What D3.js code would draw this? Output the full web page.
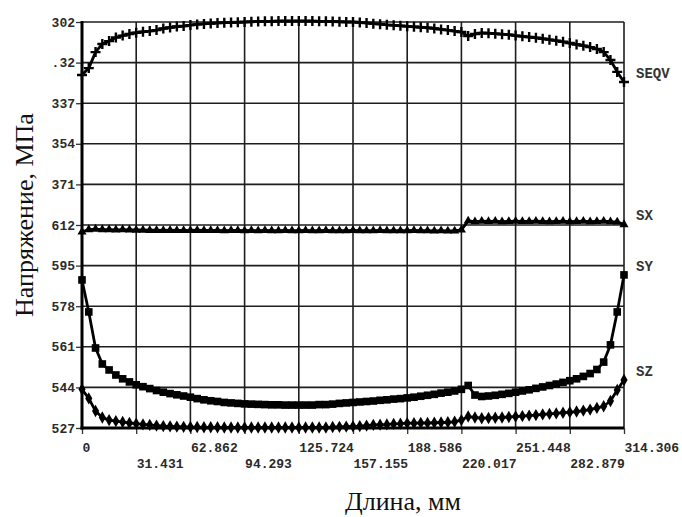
<!DOCTYPE html>
<html>
<head>
<meta charset="utf-8">
<script src="https://cdn.jsdelivr.net/npm/d3@7"></script>
<style>
  body { margin: 0; background: #fff; }
  svg { display: block; }
</style>
</head>
<body>
<div id="chart"></div>
<script>
// ---- data ------------------------------------------------------------
var pathLength = 314.306;

var xTicks = [0, 31.431, 62.862, 94.293, 125.724, 157.155, 188.586, 220.017, 251.448, 282.879, 314.306];
var xTickLabels = ["0", "31.431", "62.862", "94.293", "125.724", "157.155", "188.586", "220.017", "251.448", "282.879", "314.306"];

var yTicks = [527, 544, 561, 578, 595, 612, 629, 646, 663, 680, 697];
var yTickLabels = ["527", "544", "561", "578", "595", "612", "371", "354", "337", ".32", "302"];

var seqv = [674.8, 677.7, 684.4, 687.8, 689.0, 690.5, 691.3, 692.0, 692.5, 692.9,
  693.2, 693.6, 694.3, 694.7, 695.1, 695.3, 695.7, 696.0, 696.2, 696.4,
  696.6, 696.7, 696.8, 696.9, 697.0, 697.1, 697.2, 697.3, 697.3, 697.4,
  697.4, 697.4, 697.4, 697.4, 697.4, 697.3, 697.3, 697.2, 697.1, 697.0,
  697.0, 696.8, 696.6, 696.3, 696.1, 695.8, 695.6, 695.4, 695.2, 695.0,
  694.8, 694.6, 694.3, 693.9, 693.6, 693.2, 692.8, 691.1, 692.0, 692.4,
  692.3, 692.1, 691.9, 691.7, 691.3, 691.0, 690.7, 690.4, 690.0, 689.6,
  689.2, 688.7, 688.2, 687.6, 687.1, 686.5, 685.7, 684.4, 681.1, 676.1,
  671.9];

var sx = [609.1, 610.1, 610.3, 610.1, 610.1, 610.0, 610.1, 610.0, 609.9, 609.9,
  609.8, 609.8, 609.7, 609.8, 609.7, 609.7, 609.7, 609.8, 609.7, 609.7,
  609.7, 609.6, 609.7, 609.7, 609.6, 609.7, 609.6, 609.7, 609.6, 609.6,
  609.7, 609.6, 609.6, 609.7, 609.6, 609.6, 609.7, 609.6, 609.6, 609.6,
  609.7, 609.6, 609.6, 609.6, 609.7, 609.6, 609.6, 609.6, 609.6, 609.7,
  609.6, 609.6, 609.5, 609.6, 609.5, 609.5, 610.0, 613.7, 613.4, 613.6,
  613.5, 613.6, 613.4, 613.5, 613.6, 613.5, 613.5, 613.6, 613.5, 613.4,
  613.5, 613.6, 613.4, 613.5, 613.6, 613.4, 613.5, 613.6, 613.4, 613.3,
  612.2];

var sy = [589.0, 575.6, 560.5, 553.8, 551.3, 549.2, 547.6, 546.3, 545.1, 544.3,
  543.5, 542.7, 542.0, 541.4, 540.9, 540.4, 539.9, 539.3, 538.8, 538.4,
  538.1, 537.7, 537.5, 537.3, 537.1, 537.0, 536.9, 536.8, 536.7, 536.7,
  536.6, 536.6, 536.6, 536.6, 536.6, 536.8, 536.8, 537.0, 537.3, 537.5,
  537.7, 537.9, 538.1, 538.3, 538.6, 538.8, 539.1, 539.3, 539.6, 539.9,
  540.3, 540.7, 541.1, 541.6, 542.0, 542.5, 543.2, 544.8, 540.8, 540.2,
  540.4, 540.7, 541.1, 541.5, 542.0, 542.5, 543.0, 543.6, 544.2, 544.8,
  545.4, 546.1, 546.8, 547.6, 548.6, 549.8, 551.5, 554.6, 561.8, 575.6,
  591.1];

var sz = [543.2, 539.4, 534.1, 531.4, 530.3, 529.9, 529.5, 529.1, 528.8, 528.5,
  528.3, 528.0, 527.8, 527.7, 527.6, 527.5, 527.4, 527.4, 527.3, 527.3,
  527.3, 527.2, 527.2, 527.2, 527.2, 527.2, 527.2, 527.2, 527.2, 527.2,
  527.2, 527.2, 527.2, 527.2, 527.2, 527.2, 527.2, 527.4, 527.5, 527.6,
  527.7, 527.8, 528.0, 528.3, 528.4, 528.5, 528.7, 528.8, 529.0, 529.0,
  529.1, 529.1, 529.2, 529.3, 529.4, 529.6, 530.3, 531.8, 531.4, 531.1,
  531.2, 531.3, 531.4, 531.6, 531.8, 532.0, 532.2, 532.4, 532.7, 532.9,
  533.1, 533.4, 533.6, 533.9, 534.3, 534.7, 535.4, 536.1, 538.3, 542.9,
  547.1];

var seriesNames = ["SEQV", "SX", "SY", "SZ"];
var seriesValues = [seqv, sx, sy, sz];
var seriesMarkers = ["plus", "triangle", "square", "diamond"];

// path nodes are evenly spaced along the length
var nDiv = seqv.length - 1;
var dist = seqv.map(function(d, i) { return i * pathLength / nDiv; });

// ---- chart config ----------------------------------------------------
var width = 682, height = 517;
var margin = {top: 22, right: 58, bottom: 89, left: 82};
var innerW = width - margin.left - margin.right,
    innerH = height - margin.top - margin.bottom;

var xScale = d3.scaleLinear().domain([0, pathLength]).range([margin.left, margin.left + innerW]);
var yScale = d3.scaleLinear().domain([527, 697]).range([margin.top + innerH, margin.top]);

var svg = d3.select("#chart").append("svg")
    .attr("width", width)
    .attr("height", height);

svg.append("rect").attr("width", width).attr("height", height).attr("fill", "#fff");

var monoFont = "'Liberation Mono', 'Courier New', monospace";
var serifFont = "'Liberation Serif', 'Times New Roman', serif";

// grid
var grid = svg.append("g").attr("class", "grid")
    .attr("stroke", "#1e1e1e").attr("stroke-width", 1.6);

grid.selectAll("line.v").data(xTicks).enter().append("line")
    .attr("class", "v")
    .attr("x1", function(d) { return xScale(d); })
    .attr("x2", function(d) { return xScale(d); })
    .attr("y1", yScale(697))
    .attr("y2", yScale(527));

grid.selectAll("line.h").data(yTicks).enter().append("line")
    .attr("class", "h")
    .attr("x1", xScale(0))
    .attr("x2", xScale(pathLength))
    .attr("y1", function(d) { return yScale(d); })
    .attr("y2", function(d) { return yScale(d); });

// axes
var yAxis = d3.axisLeft(yScale)
    .tickValues(yTicks)
    .tickSize(6)
    .tickPadding(1)
    .tickFormat(function(d, i) { return yTickLabels[i]; });

var yAxisEl = svg.append("g")
    .attr("class", "y axis")
    .attr("transform", "translate(" + xScale(0) + ",0)")
    .call(yAxis);

yAxisEl.select(".domain").remove();
yAxisEl.selectAll(".tick line").attr("stroke", "#333").attr("stroke-width", 1.3);
yAxisEl.selectAll(".tick text")
    .attr("font-family", monoFont)
    .attr("font-weight", "bold")
    .attr("font-size", "13px")
    .attr("fill", "#2a2a2a");

var xAxis = d3.axisBottom(xScale)
    .tickValues(xTicks)
    .tickSize(6)
    .tickFormat(function(d, i) { return xTickLabels[i]; });

var xAxisEl = svg.append("g")
    .attr("class", "x axis")
    .attr("transform", "translate(0," + yScale(527) + ")")
    .call(xAxis);

xAxisEl.select(".domain").remove();
xAxisEl.selectAll(".tick line").attr("stroke", "#333").attr("stroke-width", 1.3);
xAxisEl.selectAll(".tick text")
    .attr("text-anchor", "start")
    .attr("dy", null)
    .attr("y", function(d, i) { return i % 2 == 0 ? 24 : 40; })
    .attr("font-family", monoFont)
    .attr("font-weight", "bold")
    .attr("font-size", "13px")
    .attr("fill", "#2a2a2a");

// thick left and bottom axis lines
svg.append("line")
    .attr("x1", xScale(0)).attr("x2", xScale(0))
    .attr("y1", yScale(697) - 1).attr("y2", yScale(527) + 1.5)
    .attr("stroke", "#000").attr("stroke-width", 3);
svg.append("line")
    .attr("x1", xScale(0) - 1.5).attr("x2", xScale(pathLength))
    .attr("y1", yScale(527)).attr("y2", yScale(527))
    .attr("stroke", "#000").attr("stroke-width", 3);

// series lines + markers
var line = d3.line()
    .x(function(d) { return xScale(d.x); })
    .y(function(d) { return yScale(d.y); });

var plusPath = "M-5,0H5M0,-5V5";
var markerShape = {
  plus: null,
  triangle: d3.symbol().type(d3.symbolTriangle).size(36)(),
  square: d3.symbol().type(d3.symbolSquare).size(58)(),
  diamond: d3.symbol().type(d3.symbolDiamond).size(44)()
};

seriesValues.forEach(function(vals, s) {
  var pts = vals.map(function(v, i) { return {x: dist[i], y: v}; });
  var g = svg.append("g").attr("class", "series " + seriesNames[s]);

  g.append("path")
    .datum(pts)
    .attr("d", line)
    .attr("fill", "none")
    .attr("stroke", "#000")
    .attr("stroke-width", 2.8)
    .attr("stroke-linejoin", "round");

  var m = g.selectAll("path.mk").data(pts).enter().append("path")
    .attr("class", "mk")
    .attr("transform", function(d) { return "translate(" + xScale(d.x) + "," + yScale(d.y) + ")"; });

  if (seriesMarkers[s] == "plus") {
    m.attr("d", plusPath).attr("stroke", "#000").attr("stroke-width", 2.4).attr("fill", "none");
  } else {
    m.attr("d", markerShape[seriesMarkers[s]]).attr("fill", "#000");
  }

  // series label at the end of the curve
  var last = pts[pts.length - 1];
  svg.append("text")
    .attr("x", xScale(last.x) + 12)
    .attr("y", yScale(last.y) - 9)
    .attr("dy", "0.35em")
    .attr("font-family", monoFont)
    .attr("font-weight", "bold")
    .attr("font-size", "14px")
    .attr("fill", "#333")
    .text(seriesNames[s]);
});

// axis titles
svg.append("text")
    .attr("transform", "translate(33,215) rotate(-90)")
    .attr("text-anchor", "middle")
    .attr("font-family", serifFont)
    .attr("font-size", "26px")
    .attr("fill", "#111")
    .text("Напряжение, МПа");

svg.append("text")
    .attr("x", 403)
    .attr("y", 510)
    .attr("text-anchor", "middle")
    .attr("font-family", serifFont)
    .attr("font-size", "26px")
    .attr("fill", "#111")
    .text("Длина, мм");
</script>
</body>
</html>
